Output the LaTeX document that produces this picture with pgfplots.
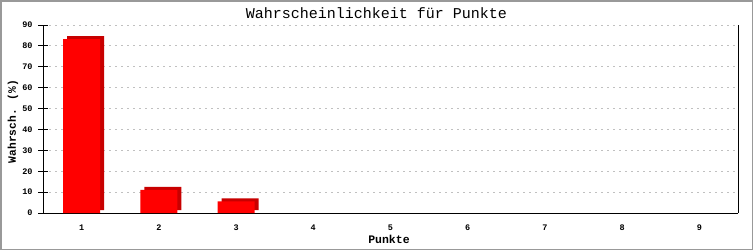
\documentclass[border=0pt]{standalone}
\usepackage{fontspec}
\setmainfont{Liberation Mono}
\usepackage{pgfplots}
\pgfplotsset{compat=1.18}
\definecolor{barred}{HTML}{FF0000}
\definecolor{shadowred}{HTML}{C80000}
\definecolor{gridgray}{HTML}{C0C0C0}
\definecolor{framegray}{HTML}{999999}
\begin{document}
\begin{tikzpicture}[x=1pt,y=1pt]
\useasboundingbox (0,0) rectangle (753,250);
\draw[framegray, line width=1.5pt] (0.75,0.75) rectangle (752.25,249.25);
\begin{axis}[
  at={(43pt,37pt)}, anchor=south west,
  scale only axis, width=695pt, height=188pt,
  xmin=0.5, xmax=9.5, ymin=0, ymax=90,
  xtick={1,...,9}, ytick={0,10,...,90},
  axis x line*=bottom, axis y line*=left,
  axis line style={black, line width=1pt},
  xtick style={draw=none},
  ytick style={black, line width=1pt},
  tick align=center, major tick length=10pt,
  ymajorgrids, grid style={gridgray, line width=1pt, dash pattern=on 2pt off 4pt},
  /pgf/number format/assume math mode=true,
  tick label style={font=\bfseries\fontsize{8.5}{9}\selectfont},
  yticklabel style={anchor=east, xshift=-2pt},
  xticklabel style={anchor=north, yshift=-3pt},
  clip=false,
]
\addplot[ybar, bar width=37pt, fill=shadowred, draw=none, bar shift=4pt, yshift=3pt]
  coordinates {(1,83.3) (2,11.1) (3,5.6)};
\addplot[ybar, bar width=37pt, fill=barred, draw=none, bar shift=0pt]
  coordinates {(1,83.3) (2,11.1) (3,5.6)};
\draw[black, line width=1pt] (rel axis cs:1,0) -- (rel axis cs:1,1);
\end{axis}
\node[anchor=base, font=\fontsize{15}{16}\selectfont] at (376.5,231.5) {Wahrscheinlichkeit für Punkte};
\node[anchor=base, font=\bfseries\fontsize{11.5}{13}\selectfont] at (389,7) {Punkte};
\node[anchor=base, rotate=90, font=\bfseries\fontsize{11.25}{13}\selectfont] at (16,128.5) {Wahrsch. (\%)};
\end{tikzpicture}
\end{document}
